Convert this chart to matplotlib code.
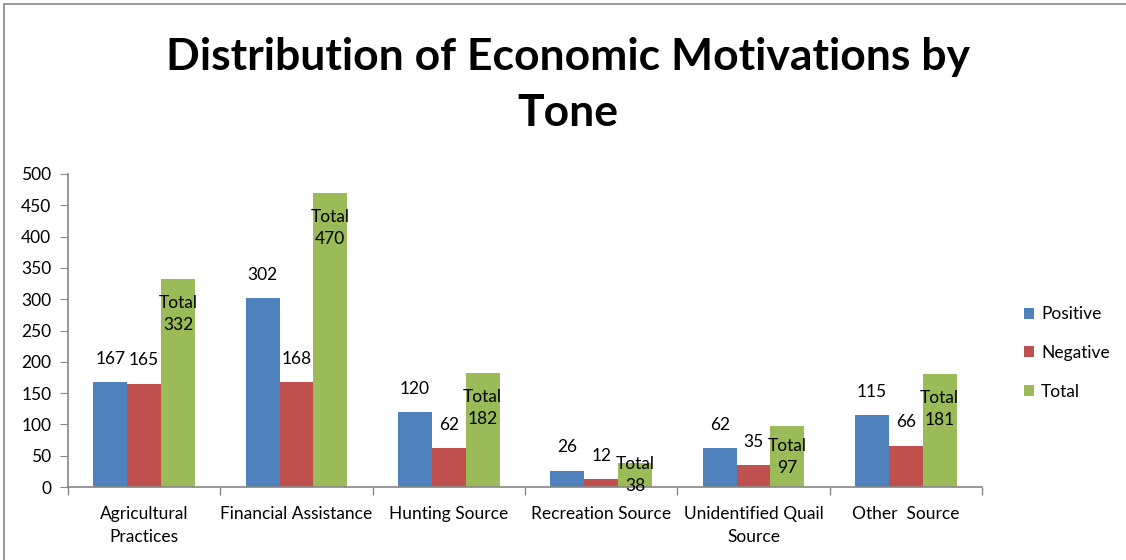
import matplotlib
matplotlib.use("Agg")
import matplotlib.pyplot as plt
import numpy as np
from matplotlib.patches import Rectangle

categories = ["Agricultural\nPractices", "Financial Assistance", "Hunting Source",
              "Recreation Source", "Unidentified Quail\nSource", "Other  Source"]
positive = [167, 302, 120, 26, 62, 115]
negative = [165, 168, 62, 12, 35, 66]
total = [332, 470, 182, 38, 97, 181]
yticks = list(range(0, 501, 50))

plt.rcParams["font.family"] = ["Lato", "DejaVu Sans"]
fs = 12.5

fig = plt.figure(figsize=(11.26, 5.6), dpi=100)
ax = fig.add_axes([68 / 1126, 1 - 487 / 560, (982 - 68) / 1126, (487 - 174) / 560])

x = np.arange(len(categories))
w = 0.222
colors = ["#4F81BD", "#C0504D", "#9BBB59"]
b1 = ax.bar(x - w, positive, w, color=colors[0], label="Positive")
b2 = ax.bar(x, negative, w, color=colors[1], label="Negative")
b3 = ax.bar(x + w, total, w, color=colors[2], label="Total")

for bars, vals in ((b1, positive), (b2, negative)):
    for r, v in zip(bars, vals):
        ax.annotate(str(v), (r.get_x() + r.get_width() / 2, v), xytext=(0, 11),
                    textcoords="offset points", ha="center", va="bottom", fontsize=fs)
for r, v in zip(b3, total):
    yc = max(v - 56, v / 2)
    ax.text(r.get_x() + r.get_width() / 2, yc, f"Total\n{v}", ha="center", va="center",
            fontsize=fs, linespacing=1.45)

ax.set_xlim(-0.5, len(categories) - 0.5)
ax.set_ylim(0, 500)
ax.set_yticks(yticks)
ax.set_xticks(x)
ax.set_xticklabels(categories, fontsize=fs, linespacing=1.5)
ax.set_xticks(np.arange(-0.5, len(categories)), minor=True)
ax.tick_params(axis="x", which="major", length=0, pad=14)
ax.tick_params(axis="x", which="minor", length=6, color="#868686", width=1)
ax.tick_params(axis="y", length=6, color="#868686", labelsize=fs, pad=6)
for s in ("top", "right"):
    ax.spines[s].set_visible(False)
for s in ("left", "bottom"):
    ax.spines[s].set_color("#868686")
    ax.spines[s].set_linewidth(1.2)

fig.text(568 / 1126, 1 - 57 / 560, "Distribution of Economic Motivations by",
         ha="center", va="center", fontsize=32, fontweight="bold")
fig.text(568 / 1126, 1 - 113 / 560, "Tone", ha="center", va="center",
         fontsize=32, fontweight="bold")

fig.legend(handles=[b1, b2, b3], loc="center left", bbox_to_anchor=(1008 / 1126, 1 - 353 / 560),
           frameon=False, fontsize=fs, handlelength=0.6, handleheight=0.6,
           labelspacing=1.3, handletextpad=0.4)

fig.patches.append(Rectangle((4 / 1126, -0.1), 1.2, 1 - 4 / 560 + 0.1, transform=fig.transFigure,
                             fill=False, edgecolor="#868686", linewidth=1.2, clip_on=False))

fig.savefig("out.png", dpi=100)
